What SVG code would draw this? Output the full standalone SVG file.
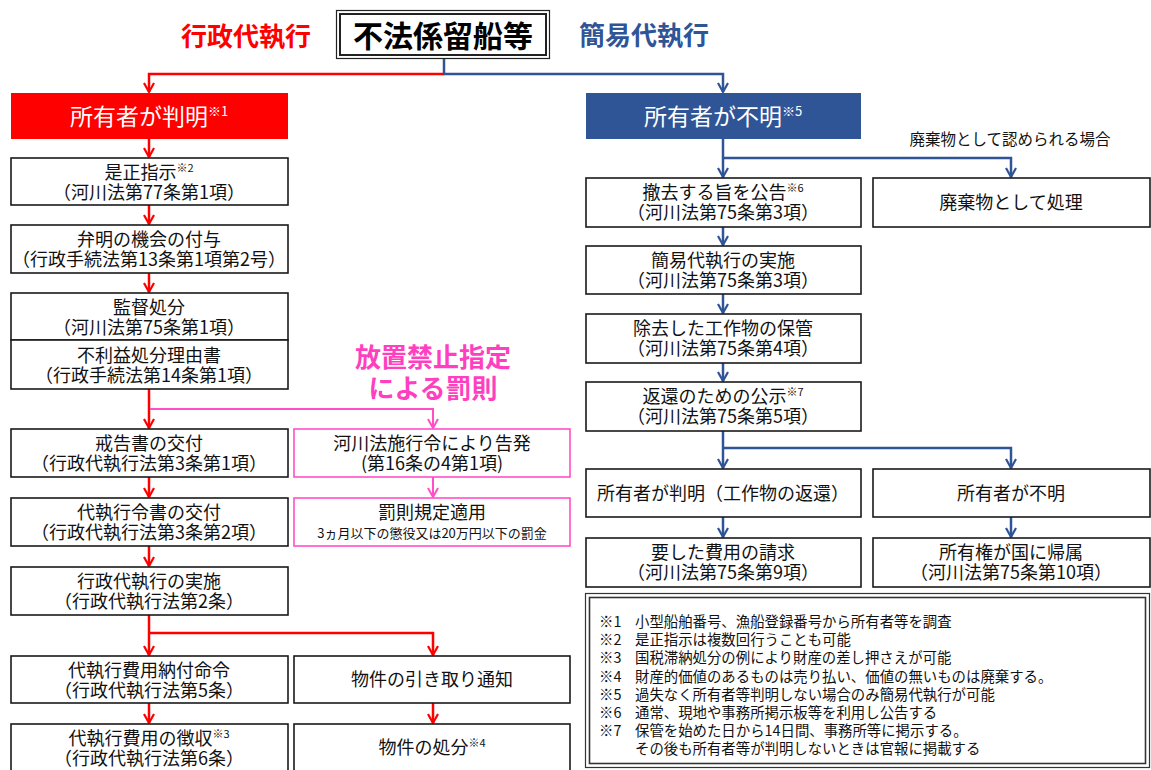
<svg xmlns="http://www.w3.org/2000/svg" width="1151" height="770" viewBox="0 0 1151 770">
<style>
.bg{fill:#fff}
.box{fill:#fff;stroke:#1a1a1a;stroke-width:1.6}
.pbox{fill:#fff;stroke:#ff4fc8;stroke-width:1.6}
.t{font-family:"Noto Sans CJK JP","Noto Sans",sans-serif;font-size:18px;fill:#111;text-anchor:middle}
.w{fill:#fff;font-size:23px}
.sup{font-size:11px}
.supw{font-size:13px}
.small{font-size:13px}
.lbl{font-size:15.5px}
.note{font-family:"Noto Sans CJK JP","Noto Sans",sans-serif;font-size:14.4px;fill:#111}
.head{font-family:"Noto Sans CJK JP","Noto Sans",sans-serif;font-weight:bold;text-anchor:middle;font-size:26px}
.big{font-size:30px}
.red{stroke:#ff0000;stroke-width:2.5;fill:none}
.blue{stroke:#2f5597;stroke-width:2.5;fill:none}
.pink{stroke:#ff4fc8;stroke-width:2;fill:none}
</style>
<defs>
<marker id="ar" viewBox="0 0 12 12" refX="10" refY="6" markerWidth="12" markerHeight="12" markerUnits="userSpaceOnUse" orient="auto">
<path d="M1,1 L10,6 L1,11" fill="none" stroke="#ff0000" stroke-width="2.2"/>
</marker>
<marker id="ab" viewBox="0 0 12 12" refX="10" refY="6" markerWidth="12" markerHeight="12" markerUnits="userSpaceOnUse" orient="auto">
<path d="M1,1 L10,6 L1,11" fill="none" stroke="#2f5597" stroke-width="2.2"/>
</marker>
<marker id="ap" viewBox="0 0 12 12" refX="10" refY="6" markerWidth="12" markerHeight="12" markerUnits="userSpaceOnUse" orient="auto">
<path d="M1,1 L10,6 L1,11" fill="none" stroke="#ff4fc8" stroke-width="2"/>
</marker>
</defs>
<rect class="bg" x="0" y="0" width="1151" height="770"/>

<g id="labels">
<text class="head" x="246" y="46" fill="#ff0000">行政代執行</text>
<text class="head" x="644" y="45" fill="#2f5597">簡易代執行</text>
<text class="head" fill="#ff3fbf"><tspan x="433" y="367">放置禁止指定</tspan><tspan x="433" y="398">による罰則</tspan></text>
<text class="t lbl" x="1010" y="145">廃棄物として認められる場合</text>
</g>

<g id="title">
<rect x="336.5" y="10.5" width="213" height="48" fill="#fff" stroke="#222" stroke-width="1.2"/>
<rect x="340" y="14" width="206" height="41" fill="none" stroke="#222" stroke-width="2"/>
<text class="head big" x="443" y="46.5" fill="#000">不法係留船等</text>
</g>

<g id="connectors">
<path class="blue" d="M444,59 V74 H723 V92" marker-end="url(#ab)"/>
<path class="red" d="M444,74 H149 V92" marker-end="url(#ar)"/>
<path class="red" d="M149,139 V157" marker-end="url(#ar)"/>
<path class="red" d="M149,205 V224" marker-end="url(#ar)"/>
<path class="red" d="M149,273 V292" marker-end="url(#ar)"/>
<path class="red" d="M149,389 V428" marker-end="url(#ar)"/>
<path class="pink" d="M150,409 H433 V428" marker-end="url(#ap)"/>
<path class="red" d="M149,477 V497" marker-end="url(#ar)"/>
<path class="pink" d="M433,477 V497" marker-end="url(#ap)"/>
<path class="red" d="M149,546 V566" marker-end="url(#ar)"/>
<path class="red" d="M149,615 V655" marker-end="url(#ar)"/>
<path class="red" d="M149,633 H433 V655" marker-end="url(#ar)"/>
<path class="red" d="M149,703 V723" marker-end="url(#ar)"/>
<path class="red" d="M433,703 V723" marker-end="url(#ar)"/>
<path class="blue" d="M723,139 V177" marker-end="url(#ab)"/>
<path class="blue" d="M723,158 H1011 V177" marker-end="url(#ab)"/>
<path class="blue" d="M723,227 V245" marker-end="url(#ab)"/>
<path class="blue" d="M723,294 V313" marker-end="url(#ab)"/>
<path class="blue" d="M723,363 V381" marker-end="url(#ab)"/>
<path class="blue" d="M723,431 V468" marker-end="url(#ab)"/>
<path class="blue" d="M723,448 H1011 V468" marker-end="url(#ab)"/>
<path class="blue" d="M723,517 V537" marker-end="url(#ab)"/>
<path class="blue" d="M1011,517 V537" marker-end="url(#ab)"/>
</g>

<g id="owner-known">
<rect x="11" y="93" width="277" height="46" fill="#ff0000"/>
<text class="t w" x="149" y="124.5">所有者が判明<tspan class="supw" dy="-9">※1</tspan></text>
</g>
<g id="zesei">
<rect class="box" x="11" y="158" width="277" height="47"/>
<text class="t"><tspan x="149" y="179">是正指示<tspan class="sup" dy="-7">※2</tspan></tspan><tspan x="149" y="199">（河川法第77条第1項）</tspan></text>
</g>
<g id="benmei">
<rect class="box" x="11" y="225" width="277" height="48"/>
<text class="t"><tspan x="149" y="246">弁明の機会の付与</tspan><tspan x="149" y="266">（行政手続法第13条第1項第2号）</tspan></text>
</g>
<g id="kantoku">
<rect class="box" x="11" y="293" width="277" height="47"/>
<text class="t"><tspan x="149" y="314">監督処分</tspan><tspan x="149" y="334">（河川法第75条第1項）</tspan></text>
</g>
<g id="furieki">
<rect class="box" x="11" y="340" width="277" height="49"/>
<text class="t"><tspan x="149" y="362">不利益処分理由書</tspan><tspan x="149" y="382">（行政手続法第14条第1項）</tspan></text>
</g>
<g id="kaikoku">
<rect class="box" x="11" y="429" width="277" height="48"/>
<text class="t"><tspan x="149" y="450">戒告書の交付</tspan><tspan x="149" y="470">（行政代執行法第3条第1項）</tspan></text>
</g>
<g id="reisho">
<rect class="box" x="11" y="498" width="277" height="48"/>
<text class="t"><tspan x="149" y="519">代執行令書の交付</tspan><tspan x="149" y="539">（行政代執行法第3条第2項）</tspan></text>
</g>
<g id="gyosei-jisshi">
<rect class="box" x="11" y="567" width="277" height="48"/>
<text class="t"><tspan x="149" y="588">行政代執行の実施</tspan><tspan x="149" y="608">（行政代執行法第2条）</tspan></text>
</g>
<g id="nofu">
<rect class="box" x="11" y="656" width="277" height="47"/>
<text class="t"><tspan x="149" y="677">代執行費用納付命令</tspan><tspan x="149" y="697">（行政代執行法第5条）</tspan></text>
</g>
<g id="choshu">
<rect class="box" x="11" y="724" width="277" height="52"/>
<text class="t"><tspan x="149" y="745">代執行費用の徴収<tspan class="sup" dy="-7">※3</tspan></tspan><tspan x="149" y="765">（行政代執行法第6条）</tspan></text>
</g>

<g id="kokuhatsu">
<rect class="pbox" x="294" y="429" width="276" height="48"/>
<text class="t"><tspan x="432" y="450">河川法施行令により告発</tspan><tspan x="432" y="470">(第16条の4第1項)</tspan></text>
</g>
<g id="bassoku">
<rect class="pbox" x="294" y="498" width="276" height="48"/>
<text class="t"><tspan x="432" y="519">罰則規定適用</tspan><tspan class="small" x="432" y="538">3ヵ月以下の懲役又は20万円以下の罰金</tspan></text>
</g>
<g id="hikitori">
<rect class="box" x="294" y="656" width="276" height="47"/>
<text class="t" x="432" y="686">物件の引き取り通知</text>
</g>
<g id="shobun">
<rect class="box" x="294" y="724" width="276" height="52"/>
<text class="t" x="432" y="754">物件の処分<tspan class="sup" dy="-7">※4</tspan></text>
</g>

<g id="owner-unknown">
<rect x="586" y="93" width="275" height="46" fill="#2f5597"/>
<text class="t w" x="723" y="124.5">所有者が不明<tspan class="supw" dy="-9">※5</tspan></text>
</g>
<g id="tekkyo">
<rect class="box" x="586" y="178" width="275" height="49"/>
<text class="t"><tspan x="723" y="199">撤去する旨を公告<tspan class="sup" dy="-7">※6</tspan></tspan><tspan x="723" y="219">（河川法第75条第3項）</tspan></text>
</g>
<g id="haikibutsu">
<rect class="box" x="873" y="178" width="277" height="49"/>
<text class="t" x="1011" y="209">廃棄物として処理</text>
</g>
<g id="kan-i-jisshi">
<rect class="box" x="586" y="246" width="275" height="48"/>
<text class="t"><tspan x="723" y="267">簡易代執行の実施</tspan><tspan x="723" y="287">（河川法第75条第3項）</tspan></text>
</g>
<g id="hokan">
<rect class="box" x="586" y="314" width="275" height="49"/>
<text class="t"><tspan x="723" y="335">除去した工作物の保管</tspan><tspan x="723" y="355">（河川法第75条第4項）</tspan></text>
</g>
<g id="koji">
<rect class="box" x="586" y="382" width="275" height="49"/>
<text class="t"><tspan x="723" y="403">返還のための公示<tspan class="sup" dy="-7">※7</tspan></tspan><tspan x="723" y="423">（河川法第75条第5項）</tspan></text>
</g>
<g id="hanmei2">
<rect class="box" x="586" y="469" width="275" height="48"/>
<text class="t" x="723" y="499.5">所有者が判明（工作物の返還）</text>
</g>
<g id="fumei2">
<rect class="box" x="873" y="469" width="277" height="48"/>
<text class="t" x="1011" y="499.5">所有者が不明</text>
</g>
<g id="seikyu">
<rect class="box" x="586" y="538" width="275" height="49"/>
<text class="t"><tspan x="723" y="559">要した費用の請求</tspan><tspan x="723" y="579">（河川法第75条第9項）</tspan></text>
</g>
<g id="kizoku">
<rect class="box" x="873" y="538" width="277" height="49"/>
<text class="t"><tspan x="1011" y="559">所有権が国に帰属</tspan><tspan x="1011" y="579">（河川法第75条第10項）</tspan></text>
</g>

<g id="notes">
<rect x="585.5" y="593.5" width="564" height="174" fill="#fff" stroke="#333" stroke-width="1.2"/>
<rect x="589.5" y="597.5" width="556" height="166" fill="none" stroke="#333" stroke-width="1.6"/>
<text class="note"><tspan x="599" y="627">※1</tspan><tspan x="635" y="627">小型船舶番号、漁船登録番号から所有者等を調査</tspan><tspan x="599" y="645.2">※2</tspan><tspan x="635" y="645.2">是正指示は複数回行うことも可能</tspan><tspan x="599" y="663.4">※3</tspan><tspan x="635" y="663.4">国税滞納処分の例により財産の差し押さえが可能</tspan><tspan x="599" y="681.6">※4</tspan><tspan x="635" y="681.6">財産的価値のあるものは売り払い、価値の無いものは廃棄する。</tspan><tspan x="599" y="699.8">※5</tspan><tspan x="635" y="699.8">過失なく所有者等判明しない場合のみ簡易代執行が可能</tspan><tspan x="599" y="718">※6</tspan><tspan x="635" y="718">通常、現地や事務所掲示板等を利用し公告する</tspan><tspan x="599" y="736.2">※7</tspan><tspan x="635" y="736.2">保管を始めた日から14日間、事務所等に掲示する。</tspan><tspan x="635" y="754.4">その後も所有者等が判明しないときは官報に掲載する</tspan></text>
</g>
</svg>
